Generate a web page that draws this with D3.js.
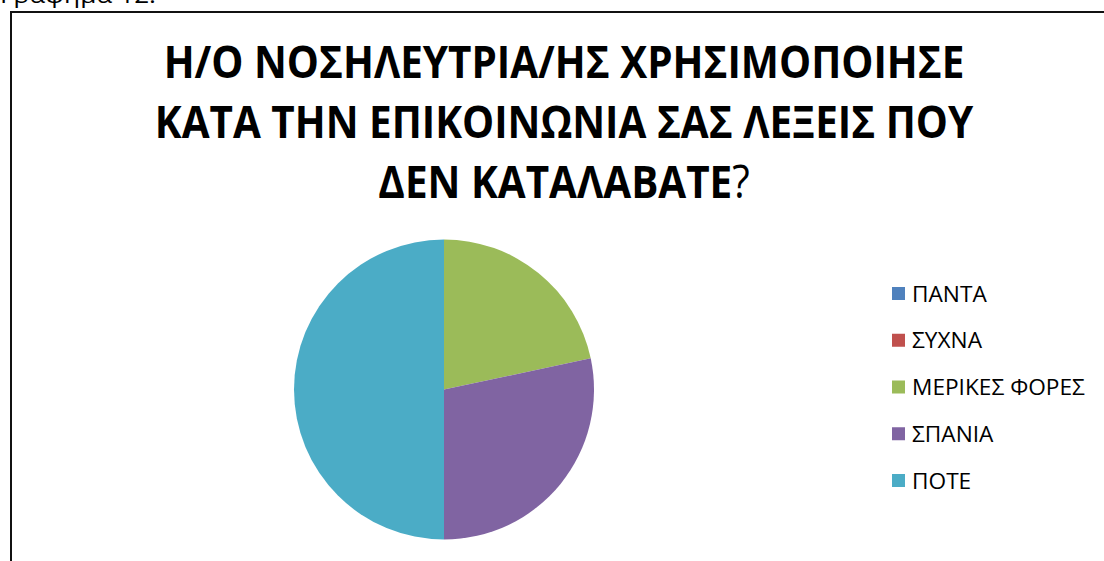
<!DOCTYPE html>
<html>
<head>
<meta charset="utf-8">
<script src="https://cdn.jsdelivr.net/npm/d3@7/dist/d3.min.js"></script>
<style>
  html, body { margin: 0; padding: 0; background: #fff; }
  svg { display: block; }
</style>
</head>
<body>
<svg id="chart" width="1104" height="561"></svg>
<script>
// Responses: "Did the nurse use words you did not understand?"
const categories = ["ΠΑΝΤΑ", "ΣΥΧΝΑ", "ΜΕΡΙΚΕΣ ΦΟΡΕΣ", "ΣΠΑΝΙΑ", "ΠΟΤΕ"];
const values = [0, 0, 13, 17, 30];
const colors = ["#4F81BD", "#C0504D", "#9BBB59", "#8064A2", "#4BACC6"];
const titleLines = [
  "Η/Ο ΝΟΣΗΛΕΥΤΡΙΑ/ΗΣ ΧΡΗΣΙΜΟΠΟΙΗΣΕ",
  "ΚΑΤΑ ΤΗΝ ΕΠΙΚΟΙΝΩΝΙΑ ΣΑΣ ΛΕΞΕΙΣ ΠΟΥ",
  "ΔΕΝ ΚΑΤΑΛΑΒΑΤΕ"
];
const caption = "Γράφημα 12.";

const svg = d3.select("#chart");
const FONT = "'Open Sans', 'Noto Sans', 'Liberation Sans', sans-serif";

// caption above the chart frame (cut at the top edge)
const cap = svg.append("text")
  .attr("x", 0).attr("y", 3)
  .attr("font-family", FONT)
  .attr("font-size", 22)
  .attr("fill", "#000")
  .text(caption);
cap.attr("textLength", 156).attr("lengthAdjust", "spacingAndGlyphs");

// chart frame (left and top edges visible)
svg.append("path")
  .attr("d", "M11,561 L11,12 L1104,12")
  .attr("fill", "none")
  .attr("stroke", "#111")
  .attr("stroke-width", 2);

// title
const titleCx = 564;
const titleY = [78, 138, 198];
const title = svg.append("g");
const t1 = title.append("text")
  .attr("font-family", FONT).attr("font-weight", 700).attr("font-size", 45)
  .attr("text-anchor", "start").text(titleLines[0]);
const natural = t1.node().getComputedTextLength();
const k = 801 / natural;
t1.remove();

titleLines.forEach((line, i) => {
  const t = title.append("text")
    .attr("font-family", FONT)
    .attr("font-size", 45)
    .attr("fill", "#000")
    .attr("text-anchor", "middle")
    .attr("transform", `translate(${titleCx},${titleY[i]}) scale(${k},1)`);
  t.append("tspan").attr("font-weight", 700).text(line);
  if (i === titleLines.length - 1) {
    t.append("tspan").attr("font-weight", 400).text("?");
  }
});

// pie
const cx = 444, cy = 389.5, r = 150;
const pie = d3.pie().sort(null).value(d => d)
  .startAngle(0).endAngle(2 * Math.PI);
const arc = d3.arc().innerRadius(0).outerRadius(r);
const color = d3.scaleOrdinal().domain(categories).range(colors);

svg.append("g")
  .attr("transform", `translate(${cx},${cy})`)
  .selectAll("path")
  .data(pie(values))
  .join("path")
  .attr("d", arc)
  .attr("fill", (d, i) => color(categories[i]));

// legend
const legendY = d3.scalePoint().domain(categories).range([294, 481]);
const legend = svg.append("g");
const probe = legend.append("text")
  .attr("font-family", FONT).attr("font-size", 21).text("ΜΕΡΙΚΕΣ ΦΟΡΕΣ");
const lk = 173 / probe.node().getComputedTextLength();
probe.remove();

const items = legend.selectAll("g.item")
  .data(categories)
  .join("g")
  .attr("class", "item")
  .attr("transform", d => `translate(0,${legendY(d)})`);

items.append("rect")
  .attr("x", 892).attr("y", -7)
  .attr("width", 13).attr("height", 13)
  .attr("fill", d => color(d));

items.append("text")
  .attr("font-family", FONT)
  .attr("font-size", 21)
  .attr("fill", "#000")
  .attr("transform", `translate(912,7.5) scale(${lk},1)`)
  .text(d => d);
</script>
</body>
</html>
